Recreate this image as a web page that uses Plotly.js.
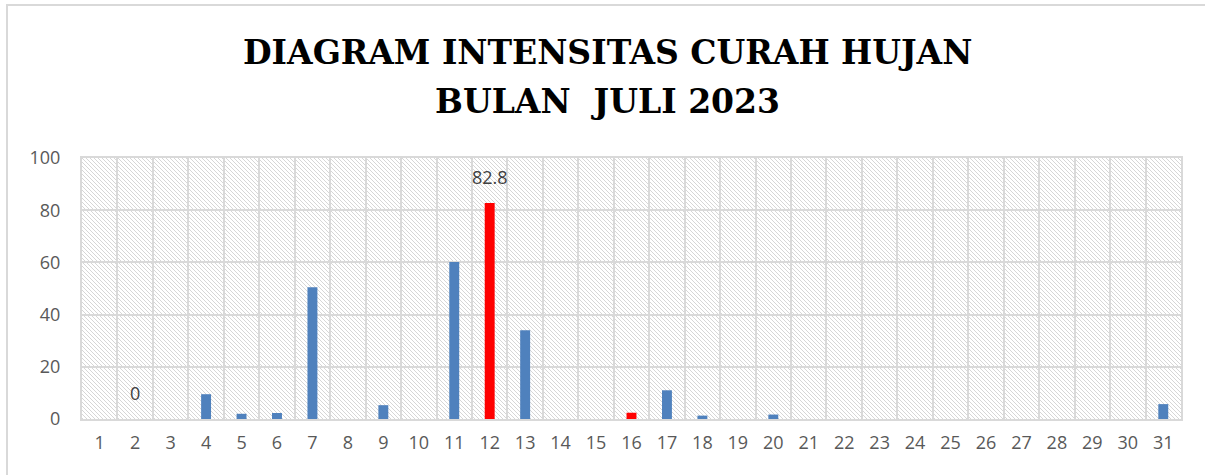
<!DOCTYPE html>
<html>
<head>
<meta charset="utf-8">
<script src="https://cdn.plot.ly/plotly-3.0.1.min.js"></script>
<style>
  body { margin: 0; background: #fff; }
  #chart { width: 1205px; height: 475px; }
  #frame {
    position: absolute; left: 6px; top: 4px; width: 1205px; height: 475px;
    border-top: 2px solid #d9d9d9; border-left: 2px solid #d9d9d9;
    pointer-events: none; z-index: 5;
  }
</style>
</head>
<body>
<div id="frame"></div>
<div id="chart"></div>
<script>
// curah hujan harian juli 2023 (mm)
var days = [];
for (var d = 1; d <= 31; d++) days.push(String(d));

var rain = [0, 0, 0, 9.5, 2.0, 2.3, 50.5, 0, 5.3, 0,
            60.2, 82.8, 34.0, 0, 0, 2.4, 11.0, 1.3, 0, 1.7,
            0, 0, 0, 0, 0, 0, 0, 0, 0, 0, 5.7];

// hari yang diberi warna merah
var redDays = ['12', '16'];
// hari yang diberi label nilai
var labelDays = ['2', '12'];

var titleLines = ['DIAGRAM INTENSITAS CURAH HUJAN', 'BULAN\u00a0 JULI 2023'];

var barColors = days.map(function (d) {
    return redDays.indexOf(d) >= 0 ? '#ff0000' : '#4f81bd';
});

// label nilai (x pakai index kategori)
var labels = labelDays.map(function (d) {
    var i = days.indexOf(d);
    return {
        x: i, y: rain[i], xref: 'x', yref: 'y',
        text: String(rain[i]), showarrow: false,
        yanchor: 'bottom', yshift: 12,
        font: {family: 'Open Sans', size: 18, color: '#404040'}
    };
});

// judul dua baris
var titleFont = {family: 'DejaVu Serif', size: 33, color: '#000000', weight: 'bold'};
var titles = [
    {text: titleLines[0], xref: 'paper', yref: 'paper', x: 0.4786, y: 1.406,
     xanchor: 'center', yanchor: 'middle', showarrow: false, font: titleFont},
    {text: titleLines[1], xref: 'paper', yref: 'paper', x: 0.4786, y: 1.2146,
     xanchor: 'center', yanchor: 'middle', showarrow: false, font: titleFont}
];

// background arsir miring
var hatch = '<svg xmlns="http://www.w3.org/2000/svg" width="1099" height="261">' +
    '<defs><pattern id="p" width="4" height="4" patternUnits="userSpaceOnUse">' +
    '<path d="M-1,-1 L5,5 M-1,3 L1,5 M3,-1 L5,1" stroke="#d6d6d6" stroke-width="1"/>' +
    '</pattern></defs><rect width="1099" height="261" fill="url(#p)"/></svg>';

var trace = {
    type: 'bar',
    x: days,
    y: rain,
    width: 0.28,
    marker: {color: barColors},
    hoverinfo: 'x+y'
};

var layout = {
    width: 1205,
    height: 475,
    margin: {l: 82, r: 24, t: 158, b: 56},
    paper_bgcolor: '#ffffff',
    plot_bgcolor: '#ffffff',
    showlegend: false,
    xaxis: {
        type: 'category',
        tickson: 'boundaries',
        ticks: '',
        showgrid: true,
        gridcolor: '#d9d9d9',
        gridwidth: 2,
        showline: true,
        linecolor: '#d9d9d9',
        linewidth: 2,
        mirror: true,
        tickfont: {family: 'Open Sans', size: 18, color: '#595959'},
        ticklabelstandoff: 6,
        fixedrange: true
    },
    yaxis: {
        range: [0, 100],
        tickvals: [0, 20, 40, 60, 80, 100],
        showgrid: true,
        gridcolor: '#d9d9d9',
        gridwidth: 2,
        zeroline: false,
        showline: true,
        linecolor: '#d9d9d9',
        linewidth: 2,
        mirror: true,
        ticks: '',
        ticklabelstandoff: 16,
        tickfont: {family: 'Open Sans', size: 18, color: '#595959'},
        fixedrange: true
    },
    images: [{
        source: 'data:image/svg+xml;charset=utf-8,' + encodeURIComponent(hatch),
        xref: 'paper', yref: 'paper',
        x: 0, y: 1, sizex: 1, sizey: 1,
        xanchor: 'left', yanchor: 'top',
        sizing: 'stretch', layer: 'below'
    }],
    annotations: titles.concat(labels)
};

Plotly.newPlot('chart', [trace], layout, {displayModeBar: false});
</script>
</body>
</html>
